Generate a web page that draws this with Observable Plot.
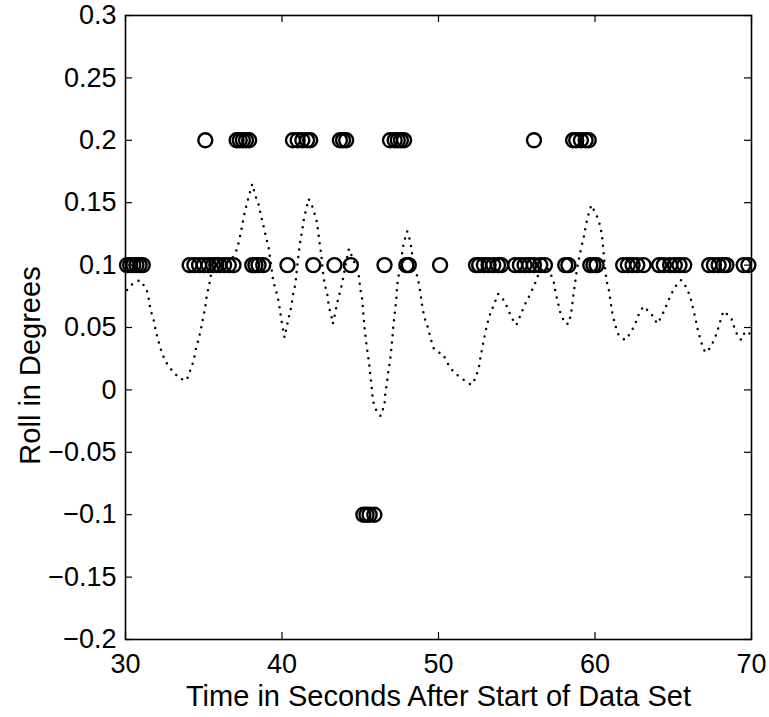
<!DOCTYPE html>
<html>
<head>
<meta charset="utf-8">
<script src="https://cdn.jsdelivr.net/npm/d3@7"></script>
<script src="https://cdn.jsdelivr.net/npm/@observablehq/plot@0.6"></script>
<style>
  html, body { margin: 0; padding: 0; background: #fff; }
  #chart { width: 769px; height: 717px; }
</style>
</head>
<body>
<div id="chart"></div>
<script>
// Tick values
const xTicks = [30, 40, 50, 60, 70];
const yTicks = [-0.2, -0.15, -0.1, -0.05, 0, 0.05, 0.1, 0.15, 0.2, 0.25, 0.3];

// Circle markers: times at each roll level
const timesAt02 = [35.1, 37.1, 37.3, 37.5, 37.7, 37.9, 40.7, 41.0, 41.3, 41.6, 41.8,
  43.7, 43.9, 44.1, 46.9, 47.2, 47.4, 47.6, 47.8, 56.1, 58.6, 58.8, 59.1, 59.4, 59.6];
const timesAt01 = [30.1, 30.3, 30.5, 30.7, 30.9, 31.1,
  34.1, 34.4, 34.7, 35.0, 35.3, 35.6, 35.8, 36.0, 36.3, 36.6, 36.9,
  38.1, 38.3, 38.5, 38.8, 40.35, 42.0, 43.35, 44.4, 46.55, 47.95, 48.1, 50.1,
  52.4, 52.6, 52.9, 53.2, 53.5, 53.8, 54.0,
  54.9, 55.2, 55.5, 55.8, 56.1, 56.5, 56.8, 58.1, 58.3, 59.7, 59.9, 60.1,
  61.8, 62.1, 62.4, 62.7, 63.1, 64.1, 64.4, 64.8, 65.1, 65.4, 65.7,
  67.3, 67.6, 67.9, 68.2, 68.4, 69.5, 69.8];
const timesAtM01 = [45.2, 45.4, 45.6, 45.9];

// Dotted curve
const curveT = [30.1, 30.36, 30.9, 31.34, 31.5, 31.6, 31.8, 31.94, 32.13, 32.34, 32.6, 33.0, 33.47, 33.9,
  34.15, 34.37, 34.5, 34.7, 34.84, 34.96, 35.1, 35.2, 35.35, 35.48, 35.8, 36.2, 36.6, 36.9,
  37.14, 37.3, 37.43, 37.56, 37.73, 37.9, 38.1, 38.29, 38.52, 38.67, 38.84, 38.99, 39.16, 39.3,
  39.44, 39.65, 39.8, 39.9, 40.0, 40.16, 40.29, 40.43, 40.6, 40.7, 40.86, 40.95, 41.07, 41.18,
  41.29, 41.4, 41.57, 41.7, 41.97, 42.2, 42.3, 42.4, 42.5, 42.63, 42.74, 42.9, 42.99, 43.14,
  43.25, 43.37, 43.53, 43.7, 43.87, 44.06, 44.27, 44.5, 44.76, 44.93, 45.0, 45.12, 45.18, 45.23,
  45.3, 45.38, 45.48, 45.57, 45.64, 45.72, 45.78, 45.9, 46.3, 46.55, 46.6, 46.7, 46.79, 46.9,
  46.98, 47.04, 47.1, 47.17, 47.25, 47.32, 47.36, 47.47, 47.58, 47.68, 47.78, 48.0, 48.2, 48.3,
  48.45, 48.6, 48.75, 48.85, 48.96, 49.1, 49.32, 49.5, 49.7, 50.0, 50.27, 50.6, 50.98, 51.5,
  52.1, 52.36, 52.58, 52.68, 52.8, 52.94, 53.1, 53.28, 53.53, 53.8, 54.07, 54.4, 54.66, 54.98,
  55.24, 55.5, 55.83, 56.13, 56.37, 56.7, 57.0, 57.2, 57.37, 57.48, 57.8, 58.1, 58.33, 58.48,
  58.65, 58.75, 58.85, 58.97, 59.12, 59.28, 59.4, 59.57, 59.76, 60.1, 60.35, 60.46, 60.52, 60.62,
  60.73, 60.9, 61.0, 61.1, 61.25, 61.46, 61.9, 62.3, 62.6, 62.84, 63.1, 63.6, 63.97, 64.23,
  64.5, 64.78, 65.08, 65.5, 65.85, 66.1, 66.27, 66.42, 66.57, 66.74, 66.95, 67.17, 67.53, 67.77,
  67.98, 68.2, 68.7, 68.9, 69.15, 69.36, 69.6, 69.9];
const curveV = [0.080, 0.084, 0.088, 0.081, 0.072, 0.064, 0.056, 0.047, 0.038, 0.029, 0.022, 0.015, 0.009, 0.0075,
  0.016, 0.024, 0.033, 0.042, 0.050, 0.058, 0.067, 0.076, 0.084, 0.094, 0.098, 0.100, 0.103, 0.107,
  0.113, 0.122, 0.130, 0.139, 0.148, 0.156, 0.165, 0.156, 0.148, 0.139, 0.130, 0.122, 0.113, 0.100,
  0.087, 0.078, 0.070, 0.061, 0.053, 0.042, 0.050, 0.058, 0.067, 0.076, 0.085, 0.097, 0.110, 0.120,
  0.128, 0.137, 0.146, 0.153, 0.146, 0.136, 0.128, 0.118, 0.109, 0.093, 0.084, 0.076, 0.067, 0.060,
  0.053, 0.060, 0.070, 0.078, 0.087, 0.100, 0.113, 0.106, 0.098, 0.090, 0.081, 0.073, 0.064, 0.056,
  0.047, 0.038, 0.029, 0.021, 0.012, 0.0035, -0.005, -0.014, -0.021, -0.012, -0.003, 0.005, 0.014, 0.023,
  0.032, 0.040, 0.049, 0.058, 0.066, 0.075, 0.084, 0.093, 0.102, 0.110, 0.118, 0.127, 0.119, 0.110,
  0.100, 0.093, 0.085, 0.077, 0.067, 0.058, 0.050, 0.041, 0.033, 0.030, 0.029, 0.021, 0.014, 0.009,
  0.004, 0.009, 0.018, 0.026, 0.034, 0.043, 0.052, 0.060, 0.068, 0.077, 0.074, 0.066, 0.058, 0.052,
  0.060, 0.068, 0.076, 0.084, 0.092, 0.098, 0.097, 0.092, 0.086, 0.078, 0.061, 0.053, 0.053, 0.062,
  0.079, 0.088, 0.097, 0.105, 0.114, 0.122, 0.131, 0.140, 0.148, 0.140, 0.131, 0.122, 0.114, 0.100,
  0.088, 0.079, 0.070, 0.062, 0.054, 0.045, 0.040, 0.046, 0.054, 0.062, 0.067, 0.061, 0.053, 0.058,
  0.066, 0.074, 0.082, 0.088, 0.082, 0.074, 0.065, 0.057, 0.048, 0.040, 0.032, 0.030, 0.038, 0.045,
  0.054, 0.063, 0.058, 0.050, 0.042, 0.040, 0.047, 0.045];

const xLabel = "Time in Seconds After Start of Data Set";
const yLabel = "Roll in Degrees";

const curve = curveT.map((t, i) => ({t, v: curveV[i]}));
const circles = [
  ...timesAt02.map(t => ({t, v: 0.2})),
  ...timesAt01.map(t => ({t, v: 0.1})),
  ...timesAtM01.map(t => ({t, v: -0.1}))
];

const W = 769, H = 717;
const mL = 125, mR = 18, mT = 15, mB = 78;
const innerH = H - mT - mB;
const innerW = W - mL - mR;
const tickLen = 7;
const fmt = d => d === 0 ? "0" : String(+d.toFixed(2)).replace("-", "\u2212");

const chart = Plot.plot({
  width: W,
  height: H,
  marginLeft: mL,
  marginRight: mR,
  marginTop: mT,
  marginBottom: mB,
  style: {fontFamily: "'Liberation Sans', Arial, Helvetica, sans-serif", fontSize: "27px", color: "black", background: "white"},
  x: {domain: [30, 70], label: null},
  y: {domain: [-0.2, 0.3], label: null},
  marks: [
    // inward ticks on all four sides
    Plot.ruleX(xTicks, {x: d => d, stroke: "black", strokeWidth: 1.2, insetTop: innerH - tickLen}),
    Plot.ruleX(xTicks, {x: d => d, stroke: "black", strokeWidth: 1.2, insetBottom: innerH - tickLen}),
    Plot.ruleY(yTicks, {y: d => d, stroke: "black", strokeWidth: 1.2, insetRight: innerW - tickLen}),
    Plot.ruleY(yTicks, {y: d => d, stroke: "black", strokeWidth: 1.2, insetLeft: innerW - tickLen}),
    Plot.line(curve, {x: "t", y: "v", stroke: "black", strokeWidth: 2.5, strokeLinecap: "round", strokeDasharray: "0,7.5"}),
    Plot.dot(circles, {x: "t", y: "v", r: 7, stroke: "black", strokeWidth: 2.4, fill: "none"}),
    Plot.frame({stroke: "black", strokeWidth: 1.6}),
    Plot.axisX(xTicks, {tickSize: 0, tickPadding: 14, label: null, fontSize: 27}),
    Plot.axisY(yTicks, {tickSize: 0, tickPadding: 9, tickFormat: fmt, label: null, fontSize: 27}),
    Plot.text([xLabel], {frameAnchor: "bottom", textAnchor: "middle", lineAnchor: "top", dy: 46, fontSize: 29, fill: "black"}),
    Plot.text([yLabel], {frameAnchor: "left", textAnchor: "middle", lineAnchor: "middle", dx: -95, dy: 38, rotate: -90, fontSize: 29, fill: "black"})
  ]
});
document.getElementById("chart").appendChild(chart);
</script>
</body>
</html>
